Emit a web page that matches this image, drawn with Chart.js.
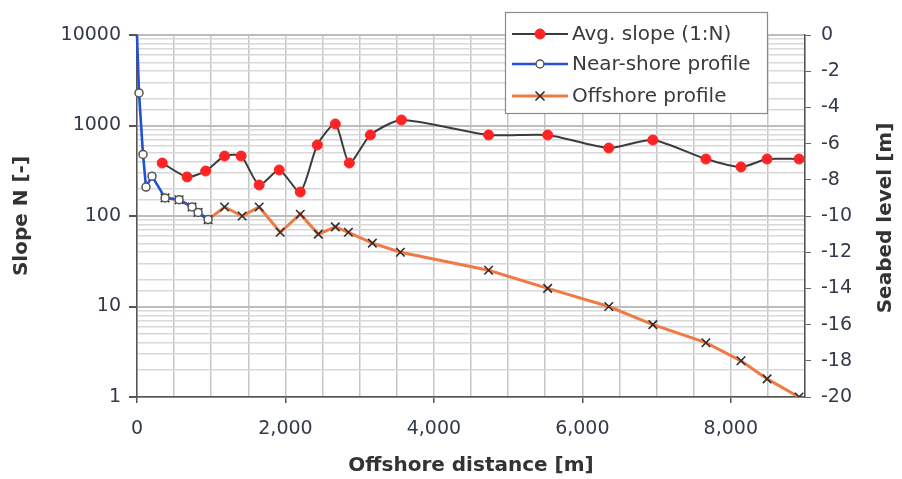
<!DOCTYPE html>
<html>
<head>
<meta charset="utf-8">
<script src="https://cdn.jsdelivr.net/npm/chart.js@4.4.1/dist/chart.umd.min.js"></script>
<style>
  html, body { margin: 0; padding: 0; background: #ffffff; }
  #wrap { width: 902px; height: 479px; }
</style>
</head>
<body>
<div id="wrap"><canvas id="chart" width="902" height="479"></canvas></div>
<script>
// Average slope (1:N), plotted against offshore distance on the log axis
const slopeDistance = [340, 675, 925, 1180, 1403, 1646, 1916, 2200, 2429, 2672, 2861, 3144, 3563, 4737, 5533, 6356, 6950, 7665, 8138, 8489, 8920];
const slopeN = [385, 270, 314, 460, 460, 220, 322, 184, 609, 1040, 385, 785, 1150, 785, 785, 564, 692, 426, 348, 426, 426];

// Near-shore seabed profile [m]
const nearDistance = [0, 27, 81, 121, 202, 378, 567, 742, 823, 958];
const nearLevel = [0, -3.2, -6.6, -8.4, -7.8, -9.0, -9.1, -9.5, -9.8, -10.2];

// Offshore seabed profile [m]
const offDistance = [378, 567, 742, 823, 958, 1180, 1417, 1646, 1930, 2200, 2443, 2672, 2848, 3171, 3549, 4737, 5533, 6356, 6950, 7665, 8138, 8489, 8920];
const offLevel = [-9.0, -9.1, -9.5, -9.8, -10.2, -9.5, -10.0, -9.5, -10.9, -9.9, -11.0, -10.6, -10.9, -11.5, -12.0, -13.0, -14.0, -15.0, -16.0, -17.0, -18.0, -19.0, -20.0];

// Axis tick labels
const slopeTickLabels = [1, 10, 100, 1000, 10000];
const levelTicks = [0, -2, -4, -6, -8, -10, -12, -14, -16, -18, -20];
const distanceTickLabels = [0, 2000, 4000, 6000, 8000];

const seriesNames = ['Avg. slope (1:N)', 'Near-shore profile', 'Offshore profile'];
const rightAxisTitle = 'Seabed level [m]';

function toPoints(xs, ys) { return xs.map((x, i) => ({ x: x, y: ys[i] })); }
function isDecade(v) { const l = Math.log10(v); return Math.abs(l - Math.round(l)) < 1e-9; }
function withComma(v) { return String(v).replace(/\B(?=(\d{3})+(?!\d))/g, ','); }

const tickFont = { family: 'DejaVu Sans', size: 19 };
const titleFont = { family: 'DejaVu Sans', size: 20, weight: 'bold' };
const tickColor = '#323949';
const titleColor = '#333333';

// Boxed legend in the upper right of the plot, plus the right-hand axis title
// written bottom-to-top like the left one
const boxLegend = {
  id: 'boxLegend',
  afterDraw(chart) {
    const ctx = chart.ctx;
    const bx = 505, by = 12, bw = 262, bh = 101;
    ctx.save();
    ctx.fillStyle = '#ffffff';
    ctx.fillRect(bx, by, bw, bh);
    ctx.strokeStyle = '#8a8a8a';
    ctx.lineWidth = 1.2;
    ctx.strokeRect(bx + 0.5, by + 0.5, bw, bh);
    const rows = [34, 64, 96];
    chart.data.datasets.forEach((ds, i) => {
      const y = rows[i];
      ctx.strokeStyle = ds.borderColor;
      ctx.lineWidth = ds.borderWidth;
      ctx.beginPath();
      ctx.moveTo(512, y);
      ctx.lineTo(568, y);
      ctx.stroke();
      ctx.fillStyle = ds.pointBackgroundColor;
      ctx.strokeStyle = ds.pointBorderColor;
      ctx.lineWidth = ds.pointBorderWidth;
      ctx.beginPath();
      if (ds.pointStyle === 'circle') {
        const r = i === 0 ? 5 : 4;
        ctx.arc(540, y, r, 0, Math.PI * 2);
        ctx.fill();
        ctx.stroke();
      } else {
        const d = 4.5;
        ctx.moveTo(540 - d, y - d); ctx.lineTo(540 + d, y + d);
        ctx.moveTo(540 + d, y - d); ctx.lineTo(540 - d, y + d);
        ctx.stroke();
      }
      ctx.fillStyle = '#3a3a3a';
      ctx.font = '20px "DejaVu Sans"';
      ctx.textBaseline = 'middle';
      ctx.textAlign = 'left';
      ctx.fillText(seriesNames[i], 572, y + 1);
    });

    ctx.translate(886, 218);
    ctx.rotate(-Math.PI / 2);
    ctx.fillStyle = titleColor;
    ctx.font = 'bold 20px "DejaVu Sans"';
    ctx.textAlign = 'center';
    ctx.textBaseline = 'middle';
    ctx.fillText(rightAxisTitle, 0, 0);
    ctx.restore();
  }
};

new Chart(document.getElementById('chart'), {
  type: 'line',
  data: {
    datasets: [
      {
        label: seriesNames[0],
        data: toPoints(slopeDistance, slopeN),
        yAxisID: 'y',
        borderColor: '#3c3c3c',
        borderWidth: 2,
        tension: 0.22,
        pointStyle: 'circle',
        pointRadius: 5,
        pointBackgroundColor: '#ff2424',
        pointBorderColor: '#ff2424',
        pointBorderWidth: 1,
        order: 1
      },
      {
        label: seriesNames[1],
        data: toPoints(nearDistance, nearLevel),
        yAxisID: 'y2',
        borderColor: '#2152d6',
        borderWidth: 2.6,
        tension: 0,
        clip: false,
        pointStyle: 'circle',
        pointRadius: ctx => (ctx.dataIndex === 0 ? 0 : 4),
        pointBackgroundColor: '#ffffff',
        pointBorderColor: '#555555',
        pointBorderWidth: 1.5,
        order: 2
      },
      {
        label: seriesNames[2],
        data: toPoints(offDistance, offLevel),
        yAxisID: 'y2',
        borderColor: '#f07a45',
        borderWidth: 3,
        tension: 0,
        pointStyle: 'crossRot',
        pointRadius: 6,
        pointBackgroundColor: '#2e2e2e',
        pointBorderColor: '#2e2e2e',
        pointBorderWidth: 1.6,
        order: 3
      }
    ]
  },
  options: {
    responsive: false,
    animation: false,
    layout: { padding: { top: 35, left: 0, right: 0, bottom: 0 } },
    plugins: { legend: { display: false }, tooltip: { enabled: false } },
    elements: { line: { fill: false } },
    scales: {
      x: {
        type: 'linear',
        min: 0,
        max: 9000,
        afterFit(s) { s.height = 82; },
        afterBuildTicks(s) {
          const t = [];
          for (let v = 0; v <= 9000; v += 500) t.push({ value: v });
          s.ticks = t;
        },
        ticks: {
          autoSkip: false,
          maxRotation: 0,
          padding: 15,
          color: tickColor,
          font: tickFont,
          callback: v => (distanceTickLabels.includes(v) ? withComma(v) : '')
        },
        grid: {
          color: '#c6c6c6',
          lineWidth: 1.5,
          tickLength: 6,
          tickColor: ctx => (ctx.tick && distanceTickLabels.includes(ctx.tick.value) ? '#555555' : 'rgba(0,0,0,0)')
        },
        border: { color: '#555555', width: 1.5 },
        title: {
          display: true,
          text: 'Offshore distance [m]',
          color: titleColor,
          font: titleFont,
          padding: { top: 0, bottom: 1 }
        }
      },
      y: {
        type: 'logarithmic',
        position: 'left',
        min: 1,
        max: 10000,
        afterFit(s) { s.width = 137; },
        ticks: {
          autoSkip: false,
          padding: 8,
          color: tickColor,
          font: tickFont,
          callback: v => (slopeTickLabels.includes(v) ? String(v) : '')
        },
        grid: {
          color: ctx => (ctx.tick && isDecade(ctx.tick.value) ? '#bdbdbd' : '#d8d8d8'),
          lineWidth: ctx => (ctx.tick && isDecade(ctx.tick.value) ? 2 : 1.4),
          tickLength: 8,
          tickColor: ctx => (ctx.tick && isDecade(ctx.tick.value) ? '#555555' : 'rgba(0,0,0,0)')
        },
        border: { color: '#555555', width: 1.5 },
        title: {
          display: true,
          text: 'Slope N [-]',
          color: titleColor,
          font: titleFont,
          padding: { top: 10, bottom: 0 }
        }
      },
      y2: {
        type: 'linear',
        position: 'right',
        min: -20,
        max: 0,
        afterFit(s) { s.width = 97; },
        afterBuildTicks(s) { s.ticks = levelTicks.map(v => ({ value: v })); },
        ticks: {
          autoSkip: false,
          padding: 10,
          color: tickColor,
          font: tickFont,
          callback: v => String(v)
        },
        grid: { drawOnChartArea: false, tickLength: 6, tickColor: '#666666' },
        border: { color: '#555555', width: 1.5 },
        title: { display: false }
      }
    }
  },
  plugins: [boxLegend]
});
</script>
</body>
</html>
